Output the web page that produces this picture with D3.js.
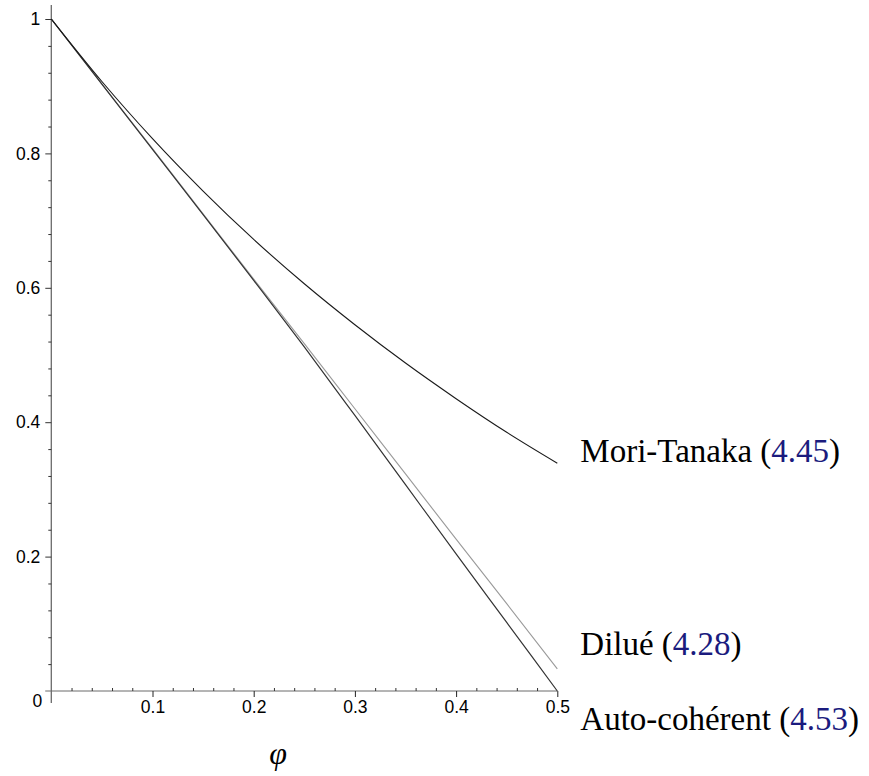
<!DOCTYPE html>
<html>
<head>
<meta charset="utf-8">
<script src="https://cdn.jsdelivr.net/npm/d3@7"></script>
</head>
<body style="margin:0">
<svg id="chart" width="869" height="776"></svg>
<script>
// ---- data ----
const phi = [0, 0.05, 0.10, 0.15, 0.20, 0.25, 0.30, 0.35, 0.40, 0.45, 0.50];
const moriTanaka   = [1, 0.907, 0.822, 0.744, 0.672, 0.606, 0.545, 0.488, 0.435, 0.385, 0.339];
const dilue        = [1, 0.903, 0.807, 0.710, 0.613, 0.517, 0.420, 0.323, 0.226, 0.130, 0.033];
const autoCoherent = [1, 0.903, 0.806, 0.709, 0.611, 0.512, 0.410, 0.307, 0.204, 0.102, 0.000];

const xMajorTicks = [0.1, 0.2, 0.3, 0.4, 0.5];
const xTickLabels = ["0.1", "0.2", "0.3", "0.4", "0.5"];
const xMinorTicks = [0.02,0.04,0.06,0.08,0.12,0.14,0.16,0.18,0.22,0.24,0.26,0.28,0.32,0.34,0.36,0.38,0.42,0.44,0.46,0.48];
const yMajorTicks = [0.2, 0.4, 0.6, 0.8, 1];
const yTickLabels = ["0.2", "0.4", "0.6", "0.8", "1"];
const yMinorTicks = [0.04,0.08,0.12,0.16,0.24,0.28,0.32,0.36,0.44,0.48,0.52,0.56,0.64,0.68,0.72,0.76,0.84,0.88,0.92,0.96];
const originLabel = "0";
const xAxisTitle = "\u03C6";

const seriesNames = ["Mori-Tanaka", "Dilué", "Auto-cohérent"];
const seriesRefs  = ["4.45", "4.28", "4.53"];

// ---- layout ----
const svg = d3.select("#chart");
const x = d3.scaleLinear().domain([0, 0.5]).range([51.3, 557.3]);
const y = d3.scaleLinear().domain([0, 1]).range([691, 19]);
const axisColor = "#6a6a6a";

// series labels first (serif)
const labelBaselines = [462, 655, 730];
seriesNames.forEach((name, i) => {
  const t = svg.append("text").attr("x", x(0.5) + 23).attr("y", labelBaselines[i])
    .attr("font-family", "Liberation Serif").attr("font-size", 33).attr("fill", "#000");
  t.append("tspan").text(name + " (");
  t.append("tspan").attr("fill", "#1b1b7e").text(seriesRefs[i]);
  t.append("tspan").text(")");
});

// x axis title
svg.append("text").attr("x", x(0.224)).attr("y", 764).attr("text-anchor", "middle")
  .attr("font-family", "Liberation Serif").attr("font-style", "italic").attr("font-size", 32).text(xAxisTitle);

// axis lines
svg.append("line").attr("x1", x(-0.006)).attr("x2", x(0.5)).attr("y1", y(0)).attr("y2", y(0))
  .attr("stroke", axisColor).attr("stroke-width", 1);
svg.append("line").attr("x1", x(0)).attr("x2", x(0)).attr("y1", y(-0.018)).attr("y2", y(1.021))
  .attr("stroke", axisColor).attr("stroke-width", 1.3);

// x axis: major ticks (down) with labels
const gx = svg.append("g").attr("transform", `translate(0,${y(0)})`)
  .call(d3.axisBottom(x).tickValues(xMajorTicks).tickSize(6).tickPadding(4).tickFormat((d, i) => xTickLabels[i]))
  .attr("font-family", "Liberation Sans").attr("font-size", 17.5);
gx.select(".domain").remove();
gx.selectAll(".tick line").attr("stroke", "#222");
gx.selectAll(".tick text").attr("fill", "#000");

// x minor ticks (up)
const gxm = svg.append("g").attr("transform", `translate(0,${y(0)})`)
  .call(d3.axisTop(x).tickValues(xMinorTicks).tickSize(3).tickFormat(""));
gxm.select(".domain").remove();
gxm.selectAll(".tick line").attr("stroke", "#333");

// y axis: major ticks (left) with labels
const gy = svg.append("g").attr("transform", `translate(${x(0)},0)`)
  .call(d3.axisLeft(y).tickValues(yMajorTicks).tickSize(6).tickPadding(5).tickFormat((d, i) => yTickLabels[i]))
  .attr("font-family", "Liberation Sans").attr("font-size", 17.5);
gy.select(".domain").remove();
gy.selectAll(".tick line").attr("stroke", "#333");
gy.selectAll(".tick text").attr("fill", "#000");

// y minor ticks (left)
const gym = svg.append("g").attr("transform", `translate(${x(0)},0)`)
  .call(d3.axisLeft(y).tickValues(yMinorTicks).tickSize(3).tickFormat(""));
gym.select(".domain").remove();
gym.selectAll(".tick line").attr("stroke", "#333");

// origin label
svg.append("text").attr("x", x(0) - 9).attr("y", y(0) + 16).attr("text-anchor", "end")
  .attr("font-family", "Liberation Sans").attr("font-size", 17.5).text(originLabel);

// ---- curves ----
const lineGen = d3.line().x(d => x(d[0])).y(d => y(d[1])).curve(d3.curveMonotoneX);
const series = [
  { vals: dilue,        color: "#9a9a9a", w: 1.1 },
  { vals: autoCoherent, color: "#333333", w: 1.2 },
  { vals: moriTanaka,   color: "#1a1a1a", w: 1.1 }
];
series.forEach(s => {
  svg.append("path")
    .datum(phi.map((p, i) => [p, s.vals[i]]))
    .attr("fill", "none").attr("stroke", s.color).attr("stroke-width", s.w)
    .attr("d", lineGen);
});
</script>
</body>
</html>
